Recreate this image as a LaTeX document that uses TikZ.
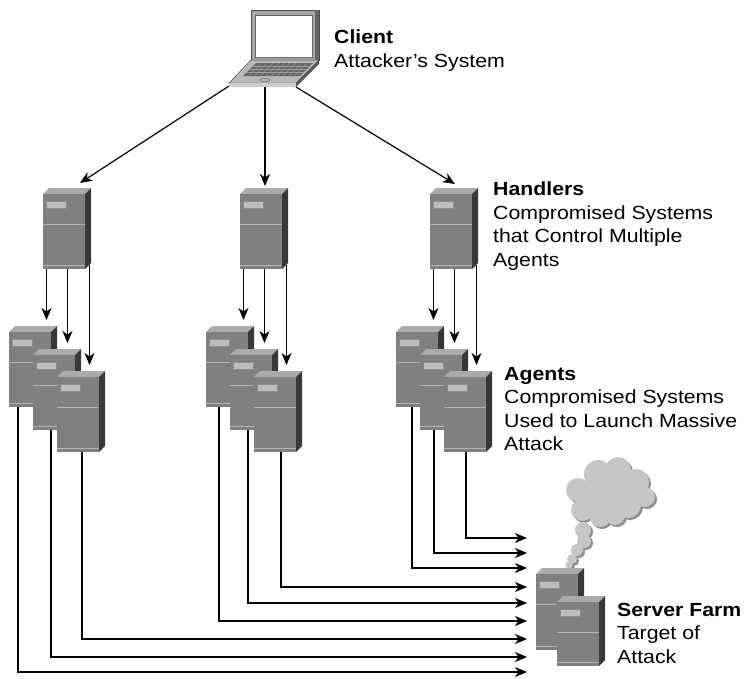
\documentclass[tikz,border=0pt]{standalone}
\usepackage{fontspec}
\setmainfont{Liberation Sans}[FakeStretch=1.12]
\usetikzlibrary{arrows.meta,backgrounds}

\definecolor{srvfront}{HTML}{808080}
\definecolor{srvtop}{HTML}{ABABAB}
\definecolor{srvside}{HTML}{383838}
\definecolor{srvline}{HTML}{B4B4B4}
\definecolor{srvbadge}{HTML}{BDBDBD}
\definecolor{lapgray}{HTML}{A6A6A6}
\definecolor{smoke}{HTML}{C6C6C6}
\definecolor{smokeshade}{HTML}{8E8E8E}

\tikzset{
  cmd/.style={-{Stealth[length=12pt,width=10pt,inset=3.5pt]}, line width=1.2pt, draw=black},
  lbl/.style={anchor=north west, align=left, inner sep=0pt, font=\fontsize{19}{23.5}\selectfont},
  pics/server/.default=75,
  server/.pic={
    \fill[srvtop] (0,0) -- (6,-6) -- (48,-6) -- (42,0) -- cycle;
    \fill[srvside] (42,0) -- (48,-6) -- (48,#1-6) -- (42,#1) -- cycle;
    \node[fill=srvfront, minimum width=42pt, minimum height=#1pt, inner sep=0pt, anchor=north west] (-f) at (0,0) {};
    \draw[srvline, line width=0.8pt] (0,30) -- (42,30) (0,#1-4) -- (42,#1-4);
    \filldraw[fill=srvbadge, draw=black!45, line width=0.5pt] (3,7) rectangle (23,14);
    \coordinate (-o1) at (3.5,#1);
    \coordinate (-o2) at (24.5,#1);
    \coordinate (-o3) at (46.5,#1-4);
  }
}

\begin{document}
\begin{tikzpicture}[x=1pt, y=-1pt]
\useasboundingbox (0,0) rectangle (744,678);

% laptop
\filldraw[fill=lapgray, draw=black!70, line width=0.5pt] (251,10) rectangle (319,60);
\fill[black!60] (315,10) rectangle (319,60);
\filldraw[fill=white, draw=black!60, line width=0.5pt] (255,15) rectangle (312,57);
\filldraw[fill=gray!55, draw=black!70, line width=0.5pt] (251,60) -- (319,60) -- (296,83) -- (229,83) -- cycle;
\fill[gray!40] (229,83) rectangle (296,87);
\fill[black!65] (296,83) -- (319,60) -- (319,64) -- (296,87) -- cycle;
\fill[black!60] (256,63) -- (313,63) -- (300,76) -- (243,76) -- cycle;
\foreach \y in {66,69,72} \draw[gray!75, line width=0.4pt] (256-\y+63,\y) -- (313-\y+63,\y);
\foreach \i in {1,...,9} \draw[gray!75, line width=0.4pt] (256+\i*5.7,63) -- (243+\i*5.7,76);
\draw[black!60, line width=0.5pt] (265,80) ellipse (5 and 1.8);
\coordinate (client-l) at (229,86);
\coordinate (client-m) at (265,82);
\coordinate (client-r) at (296,87);

% smoke above the farm
\def\puffs{598/474/14, 618/470/13, 636/482/13, 645/497/10, 578/490/12, 605/495/20,
  628/505/13, 582/510/11, 600/516/11, 615/515/10, 583/530/8, 584/541/7,
  577/550/6, 572/559/5, 569/565/3.5}
\foreach \cx/\cy/\r in \puffs \fill[smokeshade] (\cx+2,\cy+2) circle (\r);
\fill[smokeshade] (610,496) ellipse (30 and 20);
\foreach \cx/\cy/\r in \puffs \fill[smoke] (\cx,\cy) circle (\r);
\fill[smoke] (608,494) ellipse (30 and 20);

% handlers
\pic (h1) at (43,194) {server};
\pic (h2) at (240,194) {server};
\pic (h3) at (430,194) {server};

% agents
\pic (a11) at (9,332) {server};
\pic (a12) at (33,355) {server};
\pic (a13) at (57,377) {server};
\pic (a21) at (206,332) {server};
\pic (a22) at (230,355) {server};
\pic (a23) at (254,377) {server};
\pic (a31) at (396,332) {server};
\pic (a32) at (420,355) {server};
\pic (a33) at (444,377) {server};

% server farm
\pic (f1) at (536,574) {server=76};
\pic (f2) at (557,602) {server=64};

% inputs of the farm
\foreach \n/\y in {1/538, 2/553, 3/568, 4/587, 5/603, 6/621, 7/639, 8/657, 9/672}
  \coordinate (in\n) at (527,\y);

\begin{scope}[on background layer]
  \draw[cmd] (client-l) -- ([xshift=37pt,yshift=11pt]h1-f.north west);
  \draw[cmd] (client-m) -- ([xshift=25pt,yshift=8pt]h2-f.north west);
  \draw[cmd] (client-r) -- ([xshift=25pt,yshift=10pt]h3-f.north west);
  \foreach \g in {1,2,3} {
    \draw[cmd, shorten >=12pt] (h\g-o1) -- (h\g-o1 |- a\g1-f.north);
    \draw[cmd, shorten >=12pt] (h\g-o2) -- (h\g-o2 |- a\g2-f.north);
    \draw[cmd, shorten >=12pt] (h\g-o3) -- (h\g-o3 |- a\g3-f.north);
  }
  \foreach \a/\dx/\t in {a11/9/in9, a12/18/in8, a13/25/in7, a21/13/in6, a22/18/in5,
    a23/27/in4, a31/16/in3, a32/14/in2, a33/22/in1}
    \draw[cmd] ([xshift=\dx pt]\a-f.south west) |- (\t);
\end{scope}

% labels
\node[lbl] (clienttxt) at (334,30) {\textbf{Client}\\Attacker's System};
\node[lbl] (handlertxt) at (493,182) {\textbf{Handlers}\\Compromised Systems\\that Control Multiple\\Agents};
\node[lbl] (agenttxt) at (504,367) {\textbf{Agents}\\Compromised Systems\\Used to Launch Massive\\Attack};
\node[lbl] (farmtxt) at (617,603) {\textbf{Server Farm}\\Target of\\Attack};
\end{tikzpicture}
\end{document}
